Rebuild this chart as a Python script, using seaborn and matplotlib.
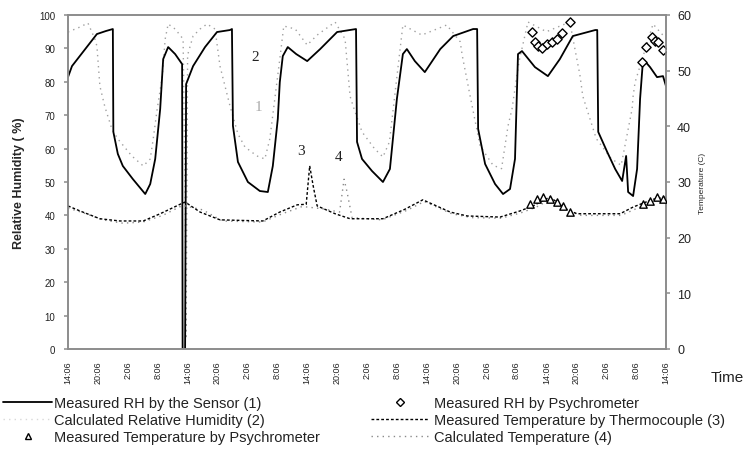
import matplotlib
matplotlib.use("Agg")
import matplotlib.pyplot as plt
import seaborn as sns
import numpy as np
from matplotlib.lines import Line2D
from matplotlib.ticker import MultipleLocator

# ---------------- data (hours from first 14:06 tick) ----------------
sensor_h = [0, 0.8, 5.8, 7.6, 9.0, 9.1, 10.0, 11.0, 13.0, 15.5, 16.5, 17.5, 18.5, 19.1, 20.1, 21.5, 22.9,
            23.0, 23.5, 23.7, 25.1, 27.5, 29.9, 32.5, 32.9, 33.1, 34.1, 36.1, 38.5, 40.1, 41.1, 42.1, 42.5,
            43.1, 44.1, 45.8, 48.0, 50.6, 54.0, 57.8, 58.0, 59.0, 61.0, 63.2, 64.6, 66.0, 67.2, 68.0, 69.6,
            71.6, 74.7, 77.3, 81.3, 82.1, 82.3, 83.7, 85.7, 87.3, 88.7, 89.7, 90.3, 91.1, 93.7, 96.3, 98.7,
            101.3, 105.8, 106.2, 106.4, 108.2, 109.8, 111.2, 112.0, 112.4, 113.4, 114.2, 114.8, 115.4,
            116.8, 118.2, 119.4, 120]
sensor_rh = [81.4, 84.7, 94.3, 95.2, 95.8, 65.0, 58.4, 54.8, 50.9, 46.4, 49.4, 56.9, 71.9, 86.8, 90.4, 88.3, 85.3,
             0, 0, 79.3, 84.7, 90.4, 94.9, 95.5, 95.8, 66.8, 56.0, 50.0, 47.3, 47.0, 54.8, 68.9, 79.9,
             87.7, 90.4, 88.3, 86.2, 89.8, 94.9, 95.8, 62.0, 56.9, 53.3, 50.0, 53.9, 74.9, 88.3, 89.8, 86.2,
             82.9, 89.8, 93.7, 95.8, 95.8, 65.9, 55.4, 49.4, 46.4, 47.9, 56.9, 88.3, 89.2, 84.4, 81.7, 86.8,
             93.7, 95.5, 95.5, 65.0, 59.0, 53.9, 50.3, 57.8, 47.0, 45.8, 53.9, 74.9, 86.8,
             84.4, 81.4, 81.7, 78.7]

calc_h = [0, 2.4, 4.0, 5.4, 5.8, 6.4, 7.4, 8.8, 10.0, 12.8, 15.1, 16.5, 17.1, 17.9, 18.9, 19.5, 20.1, 21.5,
          23.1, 23.5, 23.7, 24.0, 25.1, 26.5, 27.9, 29.5, 30.5, 32.5, 34.1, 35.5, 37.9, 39.5, 40.5, 41.5,
          42.5, 43.3, 45.6, 48.0, 50.0, 53.6, 55.6, 56.6, 57.2, 59.0, 61.5, 63.2, 64.5, 65.5, 66.5, 67.2,
          71.0, 76.0, 78.7, 79.1, 80.7, 82.7, 85.3, 87.0, 88.3, 89.1, 90.5, 92.3, 96.0, 100.7, 102.3,
          102.7, 103.3, 106.0, 109.0, 111.0, 113.2, 113.4, 113.8, 117.4, 118.8, 120]
calc_rh = [94.9, 96.4, 97.6, 92.8, 90.7, 78.7, 72.5, 65.9, 62.9, 57.8, 54.8, 56.9, 62.9, 71.9, 81.4, 92.8, 97.3, 95.8,
           92.8, 45.0, 3.0, 88.0, 93.7, 95.8, 97.3, 95.8, 84.7, 72.8, 64.4, 60.5, 57.8, 56.9, 62.9, 74.9,
           86.8, 96.7, 95.8, 91.0, 94.0, 97.9, 92.8, 75.7, 72.8, 65.0, 60.0, 57.5, 62.0, 75.0, 88.0, 97.0,
           94.0, 97.0, 92.0, 88.0, 75.7, 60.8, 55.0, 54.0, 66.8, 71.9, 86.0, 97.9, 95.0, 97.9, 85.3,
           82.3, 75.7, 63.0, 57.0, 55.0, 71.9, 75.7, 79.9, 97.3, 94.9, 93.0]

thermo_h = [0, 2.4, 6.4, 10.4, 15.1, 18.5, 22.5, 23.5, 26.5, 30.5, 39.1, 42.5, 46.0, 47.8, 48.5, 49.2, 50.0,
            53.6, 56.6, 63.2, 67.6, 71.2, 76.7, 80.1, 86.7, 90.7, 93.3, 96.7, 100.1, 102.1, 110.8, 113.4,
            117.4, 120]
thermo_t = [25.7, 24.8, 23.4, 23.0, 23.0, 24.3, 26.0, 26.4, 24.6, 23.2, 23.0, 24.6, 25.9, 26.0, 32.9, 29.3, 25.7,
            24.3, 23.4, 23.4, 25.1, 26.8, 24.6, 23.9, 23.7, 24.8, 25.7, 27.3, 25.1, 24.3, 24.3, 25.5,
            26.9, 27.3]

ctemp_h = [0, 3.0, 7.0, 11.0, 15.0, 19.0, 23.0, 27.0, 31.0, 39.0, 43.0, 47.0, 51.0, 54.5, 55.4, 56.0, 57.0,
           63.0, 68.0, 71.5, 77.0, 81.0, 87.0, 91.0, 94.0, 97.0, 100.5, 103.0, 111.0, 114.0, 118.0, 120]
ctemp_t = [25.3, 24.5, 23.2, 22.6, 22.8, 24.0, 25.8, 25.0, 23.0, 22.8, 24.3, 25.6, 25.2, 24.6, 30.5, 28.2, 23.6,
           23.2, 24.9, 26.5, 24.3, 23.6, 23.5, 24.5, 25.5, 27.0, 24.8, 24.0, 24.0, 25.2, 26.6, 27.0]

psy_rh_h = [93.1, 93.7, 94.3, 95.1, 96.1, 97.1, 98.1, 99.1, 100.7, 115.2, 116.0, 117.2, 117.8, 118.4, 119.4]
psy_rh = [94.9, 91.9, 90.7, 90.1, 91.3, 91.9, 92.8, 94.6, 97.9, 85.9, 90.4, 93.4, 92.2, 91.9, 89.5]

psy_t_h = [92.7, 94.1, 95.3, 96.7, 98.1, 99.3, 100.7, 115.4, 116.8, 118.2, 119.4]
psy_t = [26.0, 26.9, 27.3, 26.9, 26.4, 25.7, 24.6, 26.0, 26.6, 27.3, 26.9]

tick_hours = list(range(0, 121, 6))
tick_labels = ["14:06", "20:06", "2:06", "8:06"] * 5 + ["14:06"]

# ---------------- plotting ----------------
sns.set_theme(style="white")
plt.rcParams['font.family'] = ['Liberation Sans', 'DejaVu Sans']

fig = plt.figure(figsize=(7.53, 4.60), dpi=100)
ax = fig.add_axes([68/753, 1-350/460, (666-68)/753, (350-16)/460])
ax2 = ax.twinx()

sns.lineplot(x=calc_h, y=calc_rh, ax=ax, color="#a0a0a0", lw=1.0, linestyle=(0, (1, 3)),
             sort=False, estimator=None)
sns.lineplot(x=sensor_h, y=sensor_rh, ax=ax, color="black", lw=1.3, sort=False, estimator=None)
sns.scatterplot(x=psy_rh_h, y=psy_rh, ax=ax, marker="D", s=22, facecolor="white",
                edgecolor="black", linewidth=1.0, zorder=5)

sns.lineplot(x=ctemp_h, y=ctemp_t, ax=ax2, color="#8a8a8a", lw=1.0, linestyle=(0, (1, 3)),
             sort=False, estimator=None)
sns.lineplot(x=thermo_h, y=thermo_t, ax=ax2, color="black", lw=1.0, linestyle=(0, (2, 1.5)),
             sort=False, estimator=None)
sns.scatterplot(x=psy_t_h, y=psy_t, ax=ax2, marker="^", s=28, facecolor="white",
                edgecolor="black", linewidth=1.0, zorder=5)

ax.set_xlim(0, 120)
ax.set_ylim(0, 100)
ax2.set_ylim(0, 60)
ax.set_yticks(range(0, 101, 10))
ax2.set_yticks(range(0, 61, 10))
ax.set_xticks(tick_hours)
ax.set_xticklabels(tick_labels, rotation=90, fontsize=6.5, color="#222222")
ax.xaxis.set_minor_locator(MultipleLocator(12))
ax.tick_params(axis="x", which="major", length=0, pad=8)
ax.tick_params(axis="x", which="minor", length=6, direction="in", color="#777777", bottom=True)
ax.tick_params(axis="y", labelsize=7, length=3, color="#999999", pad=6, left=True, labelcolor="#222222")
ax2.tick_params(axis="y", labelsize=9, length=3, color="#999999", pad=5, right=True, labelcolor="#222222")

for a in (ax, ax2):
    for s in a.spines.values():
        s.set_color("#8c8c8c")
        s.set_linewidth(1.2)

ax.set_xlabel("")
ax.set_ylabel("Relative Humidity ( %)", fontsize=9, fontweight="bold", labelpad=10)
ax2.set_ylabel("Temperature (C)", fontsize=6, labelpad=6)
fig.text(711/753, 1-378/460, "Time", fontsize=11, va="center", ha="left", color="#222222")

# curve labels
ax.text(37.5, 87.5, "2", fontsize=11, family="Liberation Serif", color="#222222", ha="center", va="center")
ax.text(38.3, 72.5, "1", fontsize=11, family="Liberation Serif", color="#aaaaaa", ha="center", va="center")
ax.text(46.8, 59.5, "3", fontsize=11, family="Liberation Serif", color="#222222", ha="center", va="center")
ax.text(54.2, 57.5, "4", fontsize=11, family="Liberation Serif", color="#222222", ha="center", va="center")

# legends
h_sensor = Line2D([], [], color="black", lw=1.3)
h_calc = Line2D([], [], color="#d8d8d8", lw=1.0, linestyle=(0, (1, 3)))
h_tpsy = Line2D([], [], color="black", marker="^", markersize=5, markerfacecolor="white", linestyle="none")
h_rhpsy = Line2D([], [], color="black", marker="D", markersize=4, markerfacecolor="white", linestyle="none")
h_thermo = Line2D([], [], color="black", lw=1.0, linestyle=(0, (2, 1.5)))
h_ctemp = Line2D([], [], color="#8a8a8a", lw=1.0, linestyle=(0, (1, 3)))

leg1 = fig.legend([h_sensor, h_calc, h_tpsy],
                  ["Measured RH by the Sensor (1)", "Calculated Relative Humidity (2)",
                   "Measured Temperature by Psychrometer"],
                  loc="upper left", bbox_to_anchor=(0.0, 1-394/460), frameon=False,
                  fontsize=10.5, handlelength=3.4, handletextpad=0.1, labelspacing=0.2,
                  borderaxespad=0, borderpad=0.2)
leg2 = fig.legend([h_rhpsy, h_thermo, h_ctemp],
                  ["Measured RH by Psychrometer", "Measured Temperature by Thermocouple (3)",
                   "Calculated Temperature (4)"],
                  loc="upper left", bbox_to_anchor=(368/753, 1-394/460), frameon=False,
                  fontsize=10.5, handlelength=4.0, handletextpad=0.3, labelspacing=0.2,
                  borderaxespad=0, borderpad=0.2)
for lg in (leg1, leg2):
    for t in lg.get_texts():
        t.set_color("#222222")

fig.savefig("out.png", dpi=100)
